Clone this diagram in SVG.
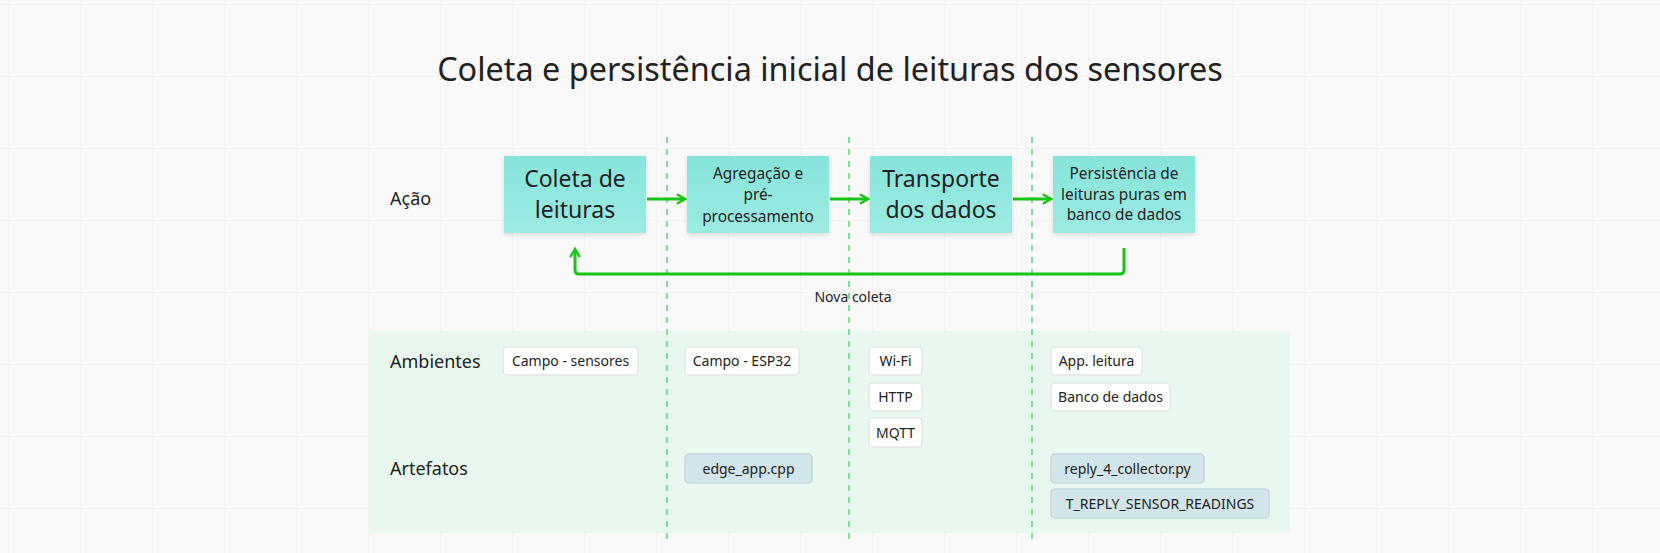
<svg xmlns="http://www.w3.org/2000/svg" width="1660" height="553" viewBox="0 0 1660 553">
<style>
text{font-family:"Noto Sans","Open Sans","DejaVu Sans",sans-serif;fill:#222}
.title{font-size:32.4px}
.row{font-size:18px}
.big{font-size:23px}
.mid{font-size:15.4px}
.chip{font-size:14px}
.box{fill:url(#boxg);filter:url(#sh)}
.env{fill:#fff;stroke:#e2e6e3;stroke-width:1.5}
.art{fill:#d2e5ea;stroke:#c3d7dd;stroke-width:1.5}
.lane{stroke:#7fdc9c;stroke-width:2;stroke-dasharray:6 6;fill:none}
.flow{stroke:#16c416;stroke-width:3;fill:none}
</style>
<defs>
<pattern id="grid" width="72" height="72" patternUnits="userSpaceOnUse" x="8" y="4">
<path d="M0 0H72M0 0V72" stroke="#eeeeee" stroke-width="1" fill="none"/>
</pattern>
<linearGradient id="boxg" x1="0" y1="0" x2="0" y2="1">
<stop offset="0" stop-color="#86e4da"/>
<stop offset="1" stop-color="#9cebe2"/>
</linearGradient>
<filter id="sh" x="-10%" y="-10%" width="120%" height="130%">
<feDropShadow dx="0" dy="2" stdDeviation="2" flood-color="#000" flood-opacity="0.12"/>
</filter>
<marker id="ah" viewBox="0 0 10 10" refX="7" refY="5" markerWidth="4" markerHeight="4" orient="auto" markerUnits="strokeWidth">
<path d="M1 1L8 5L1 9" fill="none" stroke="#16c416" stroke-width="2"/>
</marker>
</defs>
<rect width="1660" height="553" fill="#f9f9f9"/>
<rect width="1660" height="553" fill="url(#grid)"/>
<rect x="369" y="331" width="921" height="202" fill="#e8f8ee"/>
<text class="title" x="830" y="81" text-anchor="middle">Coleta e persistência inicial de leituras dos sensores</text>
<g id="row-labels">
<text class="row" x="390" y="205">Ação</text>
<text class="row" x="390" y="368">Ambientes</text>
<text class="row" x="390" y="475">Artefatos</text>
</g>
<g id="lanes">
<line class="lane" x1="667" y1="137" x2="667" y2="543"/>
<line class="lane" x1="849" y1="137" x2="849" y2="543"/>
<line class="lane" x1="1032" y1="137" x2="1032" y2="543"/>
</g>
<g id="connectors">
<line class="flow" x1="647" y1="199" x2="684" y2="199" marker-end="url(#ah)"/>
<line class="flow" x1="830" y1="199" x2="867" y2="199" marker-end="url(#ah)"/>
<line class="flow" x1="1013" y1="199" x2="1050" y2="199" marker-end="url(#ah)"/>
<path class="flow" d="M1124 248V270Q1124 274 1120 274H579Q575 274 575 270V250" marker-end="url(#ah)"/>
<text class="chip" x="853" y="302" text-anchor="middle">Nova coleta</text>
</g>
<g id="n1"><rect class="box" x="504" y="156" width="142" height="77"/>
<text class="big" x="575" y="187" text-anchor="middle">Coleta de</text>
<text class="big" x="575" y="218" text-anchor="middle">leituras</text></g>
<g id="n2"><rect class="box" x="687" y="156" width="142" height="77"/>
<text class="mid" x="758" y="178.5" text-anchor="middle">Agregação e</text>
<text class="mid" x="758" y="200" text-anchor="middle">pré-</text>
<text class="mid" x="758" y="221.5" text-anchor="middle">processamento</text></g>
<g id="n3"><rect class="box" x="870" y="156" width="142" height="77"/>
<text class="big" x="941" y="187" text-anchor="middle">Transporte</text>
<text class="big" x="941" y="218" text-anchor="middle">dos dados</text></g>
<g id="n4"><rect class="box" x="1053" y="156" width="142" height="77"/>
<text class="mid" x="1124" y="179" text-anchor="middle">Persistência de</text>
<text class="mid" x="1124" y="199.5" text-anchor="middle">leituras puras em</text>
<text class="mid" x="1124" y="220" text-anchor="middle">banco de dados</text></g>
<g id="e1"><rect class="env" x="503" y="347" width="135" height="28" rx="4"/><text class="chip" x="570.5" y="366" text-anchor="middle">Campo - sensores</text></g>
<g id="e2"><rect class="env" x="685" y="347" width="114" height="28" rx="4"/><text class="chip" x="742" y="366" text-anchor="middle">Campo - ESP32</text></g>
<g id="e3"><rect class="env" x="869" y="347" width="53" height="28" rx="4"/><text class="chip" x="895.5" y="366" text-anchor="middle">Wi-Fi</text></g>
<g id="e4"><rect class="env" x="869" y="383" width="53" height="28" rx="4"/><text class="chip" x="895.5" y="402" text-anchor="middle">HTTP</text></g>
<g id="e5"><rect class="env" x="869" y="418" width="53" height="29" rx="4"/><text class="chip" x="895.5" y="437.5" text-anchor="middle">MQTT</text></g>
<g id="e6"><rect class="env" x="1051" y="347" width="91" height="28" rx="4"/><text class="chip" x="1096.5" y="366" text-anchor="middle">App. leitura</text></g>
<g id="e7"><rect class="env" x="1051" y="383" width="119" height="28" rx="4"/><text class="chip" x="1110.5" y="402" text-anchor="middle">Banco de dados</text></g>
<g id="a1"><rect class="art" x="685" y="454" width="127" height="29" rx="4"/><text class="chip" x="748.5" y="473.5" text-anchor="middle">edge_app.cpp</text></g>
<g id="a2"><rect class="art" x="1051" y="454" width="153" height="29" rx="4"/><text class="chip" x="1127.5" y="473.5" text-anchor="middle">reply_4_collector.py</text></g>
<g id="a3"><rect class="art" x="1051" y="489" width="218" height="29" rx="4"/><text class="chip" x="1160" y="508.5" text-anchor="middle">T_REPLY_SENSOR_READINGS</text></g>
</svg>
